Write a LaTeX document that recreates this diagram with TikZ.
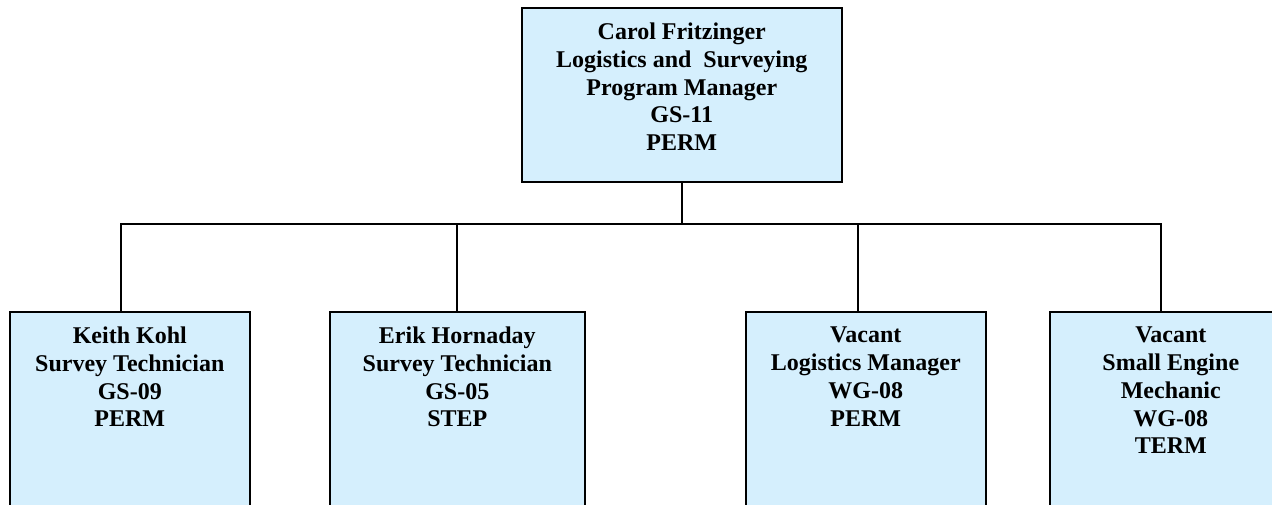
\documentclass[tikz,border=0pt]{standalone}
\usepackage{fontspec}
\setmainfont{Liberation Serif}
\usetikzlibrary{positioning}
\definecolor{boxblue}{RGB}{213,239,253}
\begin{document}
\begin{tikzpicture}[x=1pt,y=-1pt,line cap=rect,line join=miter,
	box/.style={draw=black,line width=1.6pt,fill=boxblue,rectangle,inner sep=0pt,anchor=north west},
	lbl/.style={anchor=north,align=center,inner sep=0pt,font=\fontsize{24}{27.7}\selectfont\bfseries},
	wire/.style={draw=black,line width=1.4pt}]
	\useasboundingbox (0,0) rectangle (1272,505);
	\clip (0,0) rectangle (1272,505);
	% boxes
	\node[box,minimum width=320pt,minimum height=174pt] (boss) at (521,7) {};
	\node[box,minimum width=240pt,minimum height=230pt] (kohl) at (9,311) {};
	\node[box,minimum width=255pt,minimum height=230pt] (hornaday) at (329,311) {};
	\node[box,minimum width=240pt,minimum height=230pt] (logman) at (745,311) {};
	\node[box,minimum width=242pt,minimum height=230pt] (mech) at (1049,311) {};
	% texts
	\node[lbl,below=16pt of boss.north,anchor=north] (bossT) {Carol Fritzinger\\Logistics and~ Surveying\\Program Manager\\GS-11\\PERM};
	\node[lbl,below=16pt of kohl.north,anchor=north] (kohlT) {Keith Kohl\\Survey Technician\\GS-09\\PERM};
	\node[lbl,below=16pt of hornaday.north,anchor=north] (hornadayT) {Erik Hornaday\\Survey Technician\\GS-05\\STEP};
	\node[lbl,below=16pt of logman.north,anchor=north] (logmanT) {Vacant\\Logistics Manager\\WG-08\\PERM};
	\node[lbl,below=16pt of mech.north,anchor=north] (mechT) {Vacant\\Small Engine\\Mechanic\\WG-08\\TERM};
	% bus
	\coordinate (busA) at (121,224);
	\coordinate (busB) at (457,224);
	\coordinate (busC) at (858,224);
	\coordinate (busD) at (1161,224);
	\draw[wire] (boss.south) -- (boss.south |- busA);
	\draw[wire] (busA) -- (busD);
	\draw[wire] (busA) -- (busA |- kohl.north);
	\draw[wire] (busB) -- (busB |- hornaday.north);
	\draw[wire] (busC) -- (busC |- logman.north);
	\draw[wire] (busD) -- (busD |- mech.north);
\end{tikzpicture}
\end{document}
